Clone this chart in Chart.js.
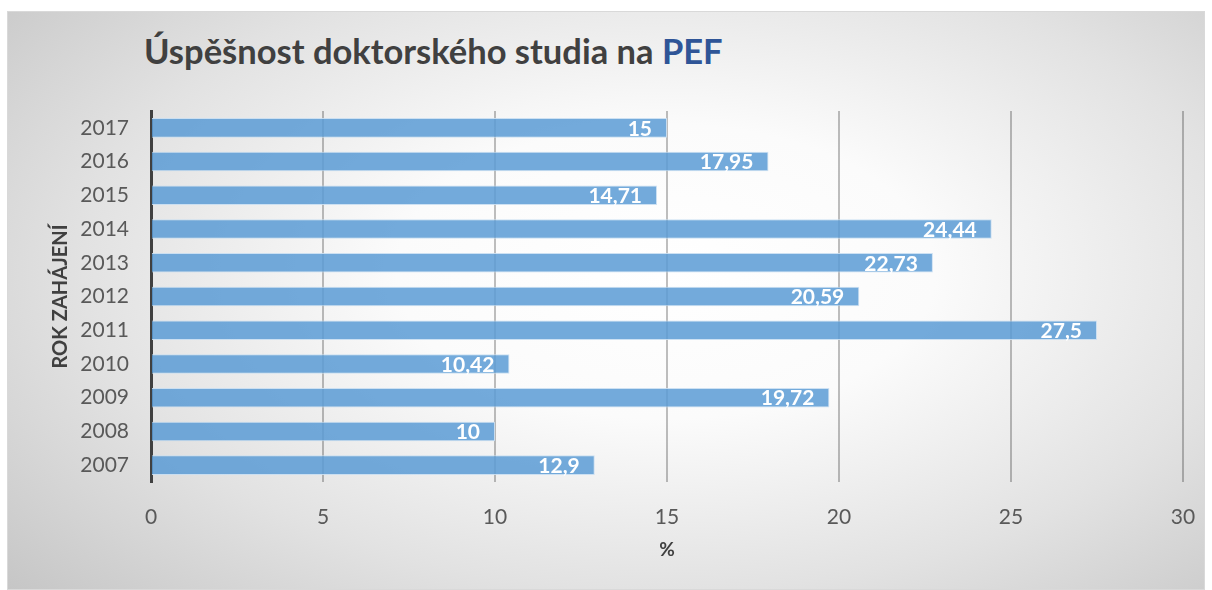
<!DOCTYPE html>
<html lang="cs">
<head>
<meta charset="utf-8">
<title>Úspěšnost doktorského studia na PEF</title>
<script src="https://cdn.jsdelivr.net/npm/chart.js@4"></script>
<style>
  html, body { margin: 0; padding: 0; background: #ffffff; }
  #frame {
    position: absolute; left: 7px; top: 11px; width: 1198px; height: 579px;
    box-sizing: border-box; border: 1px solid #d9d9d9;
    background: radial-gradient(ellipse 75% 85% at 55% 45%, #ffffff 0%, #fbfbfb 30%, #e2e2e2 65%, #c4c4c4 100%);
  }
  #chartTitle {
    position: absolute; left: 136px; top: 18px;
    font-family: Lato, "Open Sans", sans-serif; font-weight: bold; font-size: 34.5px;
    color: #404040; white-space: nowrap;
  }
  #chartTitle span { color: #2f5597; }
  canvas { position: absolute; left: 0; top: 0; }
</style>
</head>
<body>
<div id="frame">
  <div id="chartTitle">Úspěšnost doktorského studia na <span>PEF</span></div>
  <canvas id="successChart" width="1196" height="577"></canvas>
</div>
<script>
// --- Data ---
const years = ['2007', '2008', '2009', '2010', '2011', '2012', '2013', '2014', '2015', '2016', '2017'];
const successRates = [12.9, 10, 19.72, 10.42, 27.5, 20.59, 22.73, 24.44, 14.71, 17.95, 15];
const xTicks = [0, 5, 10, 15, 20, 25, 30];

// Czech decimal comma
function formatValue(v) {
  return String(v).replace('.', ',');
}

// --- Plugin: white value labels at the inner end of each bar ---
const barLabels = {
  id: 'barLabels',
  afterDatasetsDraw(chart) {
    const ctx = chart.ctx;
    const meta = chart.getDatasetMeta(0);
    ctx.save();
    ctx.font = 'bold 21px Lato, "Open Sans", sans-serif';
    ctx.fillStyle = '#ffffff';
    ctx.textAlign = 'right';
    ctx.textBaseline = 'middle';
    meta.data.forEach((bar, i) => {
      ctx.fillText(formatValue(successRates[i]), bar.x - 15, bar.y + 1);
    });
    ctx.restore();
  }
};

const ctx = document.getElementById('successChart').getContext('2d');
new Chart(ctx, {
  type: 'bar',
  data: {
    labels: years,
    datasets: [{
      data: successRates,
      backgroundColor: 'rgba(91, 155, 213, 0.85)',
      borderColor: 'rgba(200, 222, 242, 0.9)',
      borderWidth: 1,
      barPercentage: 0.58,
      categoryPercentage: 1
    }]
  },
  options: {
    indexAxis: 'y',
    responsive: false,
    animation: false,
    layout: { padding: { left: 0, right: 21, top: 99, bottom: 0 } },
    scales: {
      x: {
        min: 0, max: 30,
        afterBuildTicks: axis => { axis.ticks = xTicks.map(v => ({ value: v })); },
        afterFit: axis => {
          axis.height = 107;
          axis.paddingLeft = 0;  // don't let the end labels shrink the plot
          axis.paddingRight = 0;
        },
        grid: { color: 'rgba(0, 0, 0, 0.25)', lineWidth: 2, drawTicks: false },
        border: { display: false },
        ticks: { padding: 23, color: '#595959', font: { family: 'Lato, "Open Sans", sans-serif', size: 21 } },
        title: {
          display: true, text: '%', color: '#404040',
          font: { family: 'Lato, "Open Sans", sans-serif', size: 19, weight: 'bold' },
          padding: { top: 0, bottom: 28 }
        }
      },
      y: {
        reverse: true,
        afterFit: axis => { axis.width = 143; },
        grid: { display: false, drawTicks: false },
        border: { display: true, color: '#404040', width: 3 },
        ticks: { padding: 22, color: '#595959', font: { family: 'Lato, "Open Sans", sans-serif', size: 21 } },
        title: {
          display: true, text: 'ROK ZAHÁJENÍ', color: '#404040',
          font: { family: 'Lato, "Open Sans", sans-serif', size: 20, weight: 'bold' },
          padding: { top: 41, bottom: 0 }
        }
      }
    },
    plugins: {
      legend: { display: false },
      title: { display: false },
      tooltip: { enabled: false }
    }
  },
  plugins: [barLabels]
});
</script>
</body>
</html>
